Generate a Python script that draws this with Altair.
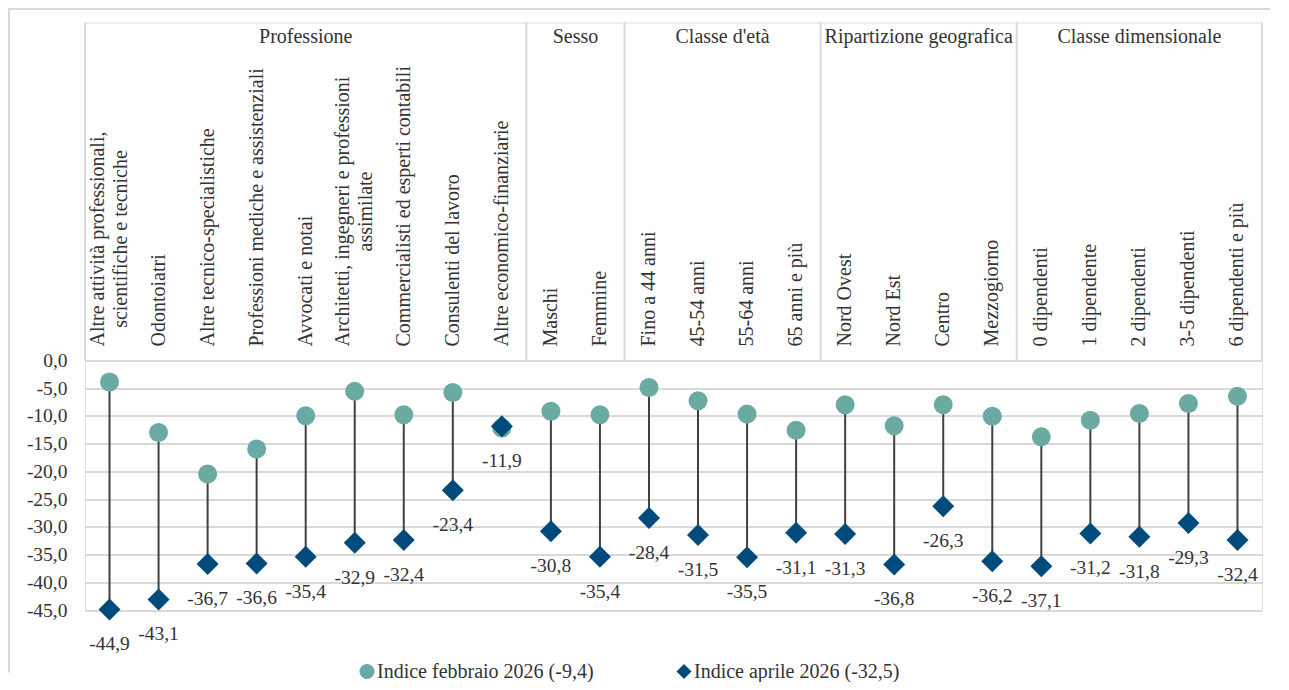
import altair as alt
import pandas as pd

gruppi = ["Professione", "Sesso", "Classe d'età", "Ripartizione geografica", "Classe dimensionale"]
categorie_per_gruppo = [9, 2, 4, 4, 5]

categorie = [
    "Altre attività professionali, scientifiche e tecniche", "Odontoiatri",
    "Altre tecnico-specialistiche", "Professioni mediche e assistenziali",
    "Avvocati e notai", "Architetti, ingegneri e professioni assimilate",
    "Commercialisti ed esperti contabili", "Consulenti del lavoro",
    "Altre economico-finanziarie", "Maschi", "Femmine", "Fino a 44 anni",
    "45-54 anni", "55-64 anni", "65 anni e più", "Nord Ovest", "Nord Est",
    "Centro", "Mezzogiorno", "0 dipendenti", "1 dipendente", "2 dipendenti",
    "3-5 dipendenti", "6 dipendenti e più",
]

a_capo = {
    "Altre attività professionali, scientifiche e tecniche": ["Altre attività professionali,", "scientifiche e tecniche"],
    "Architetti, ingegneri e professioni assimilate": ["Architetti, ingegneri e professioni", "assimilate"],
}

indice_febbraio = [-3.9, -13.0, -20.5, -16.0, -10.0, -5.6, -9.8, -5.8, -12.2,
                   -9.2, -9.8, -4.9, -7.3, -9.7, -12.6, -8.0, -11.8, -8.0, -10.1,
                   -13.8, -10.8, -9.6, -7.8, -6.5]
indice_aprile = [-44.9, -43.1, -36.7, -36.6, -35.4, -32.9, -32.4, -23.4, -11.9,
                 -30.8, -35.4, -28.4, -31.5, -35.5, -31.1, -31.3, -36.8, -26.3, -36.2,
                 -37.1, -31.2, -31.8, -29.3, -32.4]

media_febbraio = -9.4
media_aprile = -32.5

tick_y = [0, -5, -10, -15, -20, -25, -30, -35, -40, -45]

def virgola(v):
    return f"{v:.1f}".replace(".", ",")

serie_feb = f"Indice febbraio 2026 ({virgola(media_febbraio)})"
serie_apr = f"Indice aprile 2026 ({virgola(media_aprile)})"

n = len(categorie)
df = pd.DataFrame({
    "cat": categorie,
    "pos": [i + 0.5 for i in range(n)],
    "feb": indice_febbraio,
    "apr": indice_aprile,
})
df["lab"] = [virgola(v) for v in indice_aprile]
df["riga1"] = [a_capo.get(c, [c, ""])[0] for c in categorie]
df["riga2"] = [a_capo.get(c, [c, ""])[1] for c in categorie]

punti = pd.concat([
    pd.DataFrame({"pos": df["pos"], "valore": df["feb"], "serie": serie_feb}),
    pd.DataFrame({"pos": df["pos"], "valore": df["apr"], "serie": serie_apr}),
])

bordi = [0]
for k in categorie_per_gruppo:
    bordi.append(bordi[-1] + k)
df_bordi = pd.DataFrame({"b": bordi})
df_gruppi = pd.DataFrame({
    "gruppo": gruppi,
    "centro": [(bordi[i] + bordi[i + 1]) / 2 for i in range(len(gruppi))],
})

FONT = "Liberation Serif"
TXT = "#333333"
GRID = "#d9d9d9"
TEAL = "#6aaaa3"
NAVY = "#004b7b"

W, H = 1177, 587.5
PAD = {"left": 77, "top": 14.5, "right": 19, "bottom": 72}
xscale = alt.Scale(domain=[0, n], nice=False, zero=False)
yscale = alt.Scale(domain=[-45, 60.87], nice=False, zero=False)
yaxis = alt.Axis(
    values=tick_y, title=None, grid=True, gridColor=GRID, gridWidth=2,
    domain=False, ticks=False, labelPadding=18, labelFont=FONT,
    labelFontSize=19.5, labelColor=TXT,
    labelExpr="replace(replace(format(datum.value, '.1f'), '.', ','), '\u2212', '-')",
)
X = alt.X("pos:Q", scale=xscale, axis=None)

legenda = alt.Legend(
    orient="none", legendX=272, legendY=639, direction="horizontal", title=None,
    labelFont=FONT, labelFontSize=20, labelColor=TXT, symbolSize=225,
    columnPadding=80, labelOffset=0, symbolStrokeWidth=0, labelLimit=400,
)
colore = alt.Color("serie:N", scale=alt.Scale(domain=[serie_feb, serie_apr], range=[TEAL, NAVY]), legend=legenda)
forma = alt.Shape("serie:N", scale=alt.Scale(domain=[serie_feb, serie_apr], range=["circle", "diamond"]), legend=legenda)

# outer frame (top and left edges), kept a little inside the drawing surface
cornice_sopra = alt.Chart(alt.Data(values=[{}])).mark_rule(color=GRID, strokeWidth=2).encode(
    x=alt.value(-77), x2=alt.value(1185), y=alt.value(-13.5)
)
cornice_sinistra = alt.Chart(alt.Data(values=[{}])).mark_rule(color=GRID, strokeWidth=2).encode(
    x=alt.value(-76), y=alt.value(-14.5), y2=alt.value(650)
)

linee_testata = alt.Chart(df_bordi).mark_rule(color=GRID, strokeWidth=2).encode(
    x=alt.X("b:Q", scale=xscale, axis=None),
    y=alt.YDatum(0, scale=yscale, axis=yaxis),
    y2=alt.value(0),
)

titoli = alt.Chart(df_gruppi).mark_text(
    font=FONT, fontSize=20, color=TXT, baseline="middle", align="center"
).encode(x=alt.X("centro:Q", scale=xscale, axis=None), y=alt.value(14.3), text="gruppo:N")

base_lab = alt.Chart(df)
lab_singole = base_lab.transform_filter("datum.riga2 == ''").mark_text(
    font=FONT, fontSize=20, color=TXT, angle=270, align="left", baseline="middle"
).encode(x=X, y=alt.value(324), text="riga1:N")
lab_riga1 = base_lab.transform_filter("datum.riga2 != ''").mark_text(
    font=FONT, fontSize=20, color=TXT, angle=270, align="left", baseline="middle", dy=-11.75
).encode(x=X, y=alt.value(324), text="riga1:N")
lab_riga2_a = base_lab.transform_filter(alt.datum.cat == categorie[0]).mark_text(
    font=FONT, fontSize=20, color=TXT, angle=270, align="center", baseline="middle", dy=11.75, dx=107.5
).encode(x=X, y=alt.value(324), text="riga2:N")
lab_riga2_b = base_lab.transform_filter(alt.datum.cat == categorie[5]).mark_text(
    font=FONT, fontSize=20, color=TXT, angle=270, align="center", baseline="middle", dy=11.75, dx=135
).encode(x=X, y=alt.value(324), text="riga2:N")

aste = alt.Chart(df).mark_rule(color="#404040", strokeWidth=2).encode(
    x=X, y=alt.Y("feb:Q", scale=yscale, axis=yaxis), y2="apr:Q"
)

cerchi = alt.Chart(punti).transform_filter(alt.datum.serie == serie_feb).mark_point(
    filled=True, size=361, opacity=1, strokeWidth=0
).encode(x=X, y=alt.Y("valore:Q", scale=yscale, axis=yaxis), color=colore, shape=forma)

rombi = alt.Chart(punti).transform_filter(alt.datum.serie == serie_apr).mark_point(
    filled=True, size=484, opacity=1, strokeWidth=0
).encode(x=X, y=alt.Y("valore:Q", scale=yscale, axis=yaxis), color=colore, shape=forma)

etichette = alt.Chart(df).mark_text(
    font=FONT, fontSize=19.5, color=TXT, baseline="middle", align="center", dy=35
).encode(x=X, y=alt.Y("apr:Q", scale=yscale, axis=yaxis), text="lab:N")

chart = alt.layer(
    cornice_sopra, cornice_sinistra, linee_testata, titoli, lab_singole, lab_riga1,
    lab_riga2_a, lab_riga2_b, aste, cerchi, rombi, etichette,
).properties(
    width=W, height=H, autosize="none", padding=PAD,
).configure_view(stroke=None).configure(background="white")

chart.save("out.html", embed_options={"renderer": "svg", "actions": False})
